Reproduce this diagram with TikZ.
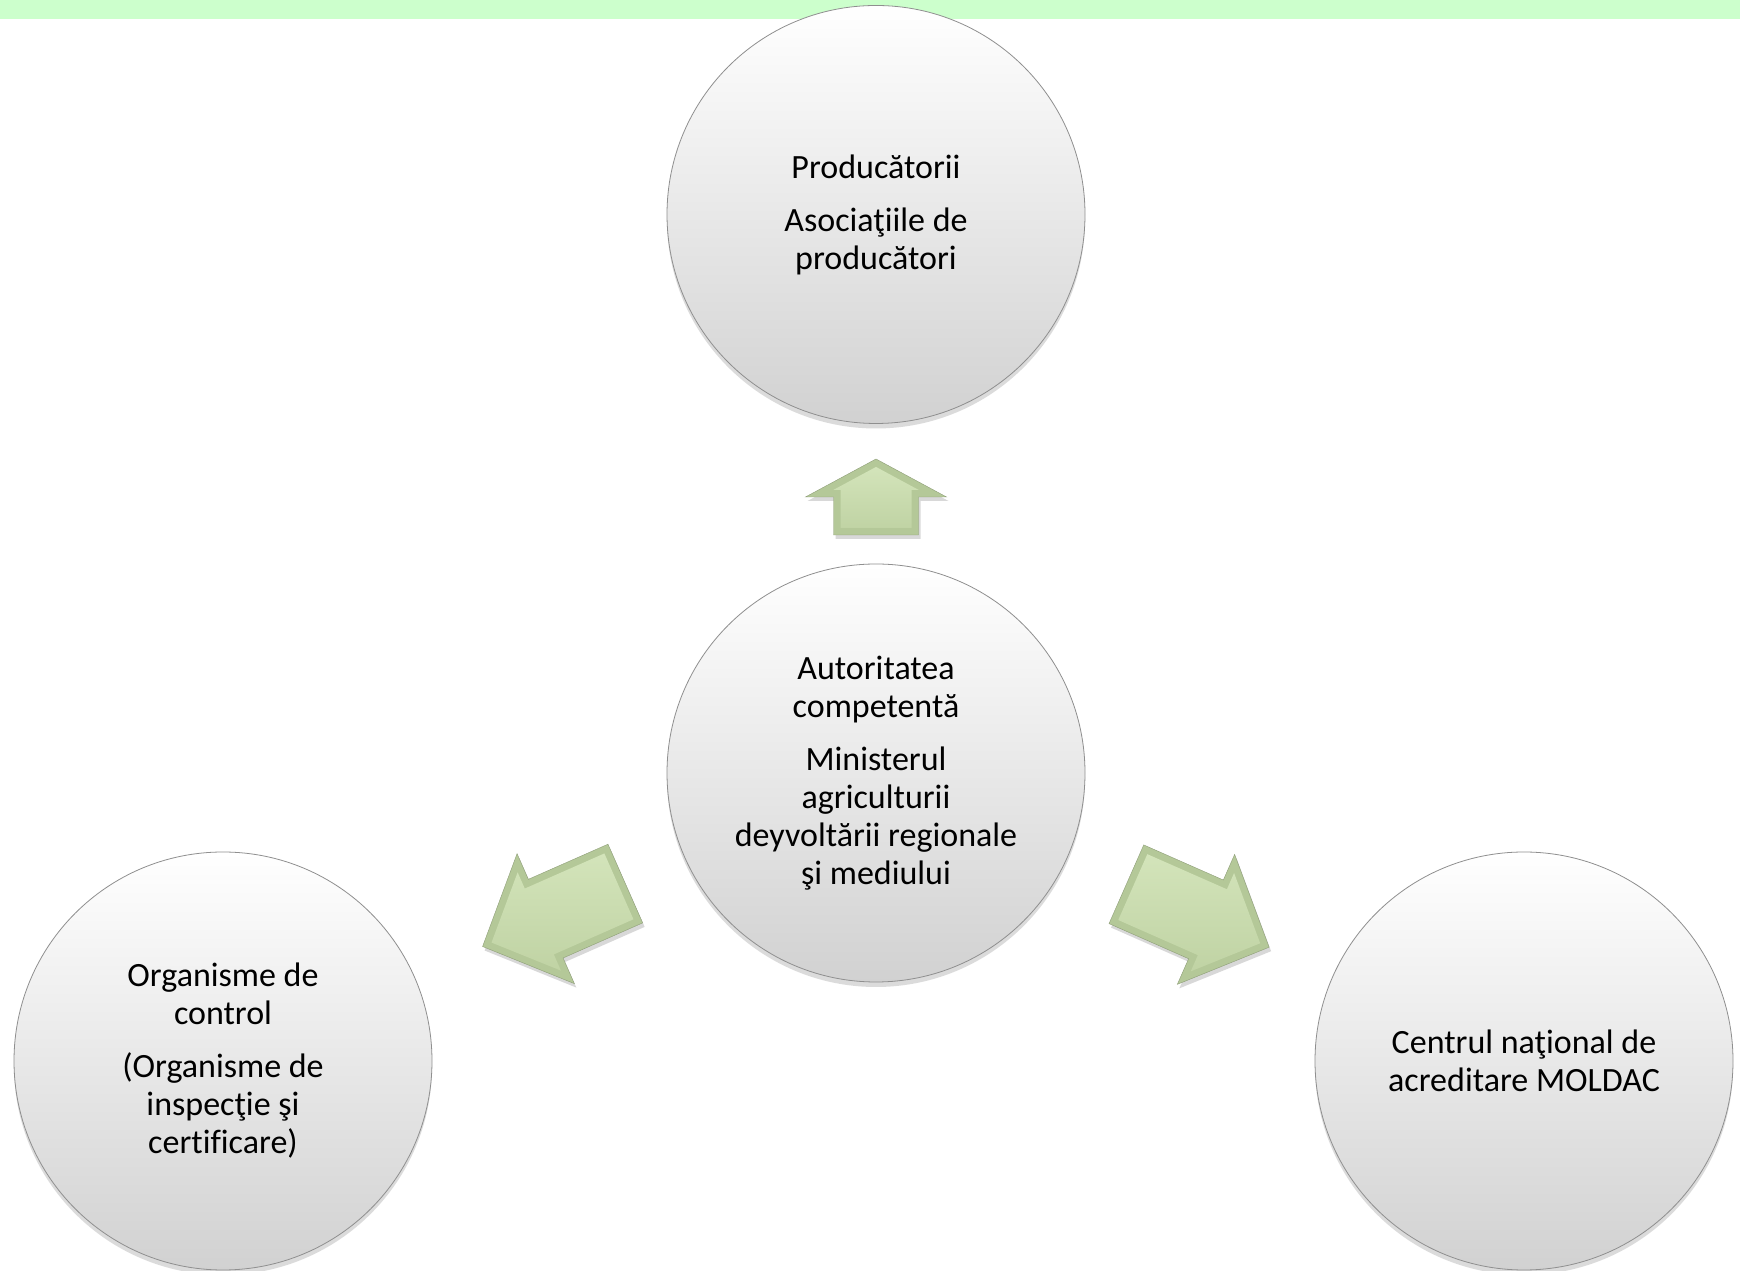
\documentclass[tikz,border=0pt]{standalone}
\usepackage{fontspec}
\setmainfont[Ligatures=NoCommon]{Carlito}
\usetikzlibrary{calc,shadows}
\definecolor{band}{HTML}{CCFFCC}
\definecolor{arrowdark}{HTML}{B4C898}
\definecolor{arrowlight}{HTML}{D3E4BA}
\definecolor{arrowmid}{HTML}{C0D3A4}
\definecolor{arrowedge}{HTML}{8E9E78}
\definecolor{rim}{HTML}{8F8F8F}
\tikzset{
  ball/.style={circle, minimum size=418pt, inner sep=0pt, draw=rim, line width=0.8pt,
    top color=white, bottom color=black!18,
    drop shadow={opacity=0.28, shadow xshift=0pt, shadow yshift=-5pt},
    align=center, font=\fontsize{34}{38}\selectfont, text=black},
  pics/blockarrow/.style args={#1/#2/#3/#4}{code={
    \pgfmathsetmacro{\Lb}{#1}\pgfmathsetmacro{\hb}{#2}
    \pgfmathsetmacro{\wb}{#3}\pgfmathsetmacro{\Hb}{#4}
    \pgfmathsetmacro{\db}{7}
    \pgfmathsetmacro{\sb}{sqrt(\Hb*\Hb+\hb*\hb)}
    \pgfmathsetmacro{\xa}{\Lb-\hb}
    \pgfmathsetmacro{\xb}{\xa+\db}
    \pgfmathsetmacro{\wi}{\wb-\db}
    \pgfmathsetmacro{\Hi}{\Hb-\db*(\sb+\Hb)/\hb}
    \pgfmathsetmacro{\Li}{\Lb-\db*\sb/\Hb}
    \fill[arrowdark, drop shadow={opacity=0.3, shadow xshift=2pt, shadow yshift=-4pt}]
      (0,\wb) -- (\xa,\wb) -- (\xa,\Hb) -- (\Lb,0) -- (\xa,-\Hb) -- (\xa,-\wb) -- (0,-\wb) -- cycle;
    \shade[top color=arrowlight, bottom color=arrowmid]
      (\db,\wi) -- (\xb,\wi) -- (\xb,\Hi) -- (\Li,0) -- (\xb,-\Hi) -- (\xb,-\wi) -- (\db,-\wi) -- cycle;
    \draw[arrowedge, line width=0.4pt]
      (0,\wb) -- (\xa,\wb) -- (\xa,\Hb) -- (\Lb,0) -- (\xa,-\Hb) -- (\xa,-\wb) -- (0,-\wb) -- cycle;
  }}
}
\begin{document}
\begin{tikzpicture}[x=1pt,y=1pt]
\useasboundingbox (0,0) rectangle (1740,1271);
\fill[white] (0,0) rectangle (1740,1271);
\fill[band] (0,1252) rectangle (1740,1271);

\node[ball] (T) at (876,1056.5) {Producătorii\\[15pt]Asociaţiile de\\producători};
\node[ball] (C) at (876,498) {Autoritatea\\competentă\\[15pt]Ministerul\\agriculturii\\deyvoltării regionale\\şi mediului};
\node[ball] (L) at (223,210) {Organisme de\\control\\[15pt](Organisme de\\inspecţie şi\\certificare)};
\node[ball] (R) at (1524,210) {Centrul naţional de\\acreditare MOLDAC};

\coordinate (aT) at ($(C)!238pt!(T)$);
\coordinate (aL) at ($(C)!274pt!(L)$);
\coordinate (aR) at ($(C)!274pt!(R)$);
\pic[rotate=90] at (aT) {blockarrow=76/38/42.5/70.5};
\pic[rotate=203.8] at (aL) {blockarrow=156/69/43/71};
\pic[rotate=-23.8] at (aR) {blockarrow=156/69/43/71};
\end{tikzpicture}
\end{document}
